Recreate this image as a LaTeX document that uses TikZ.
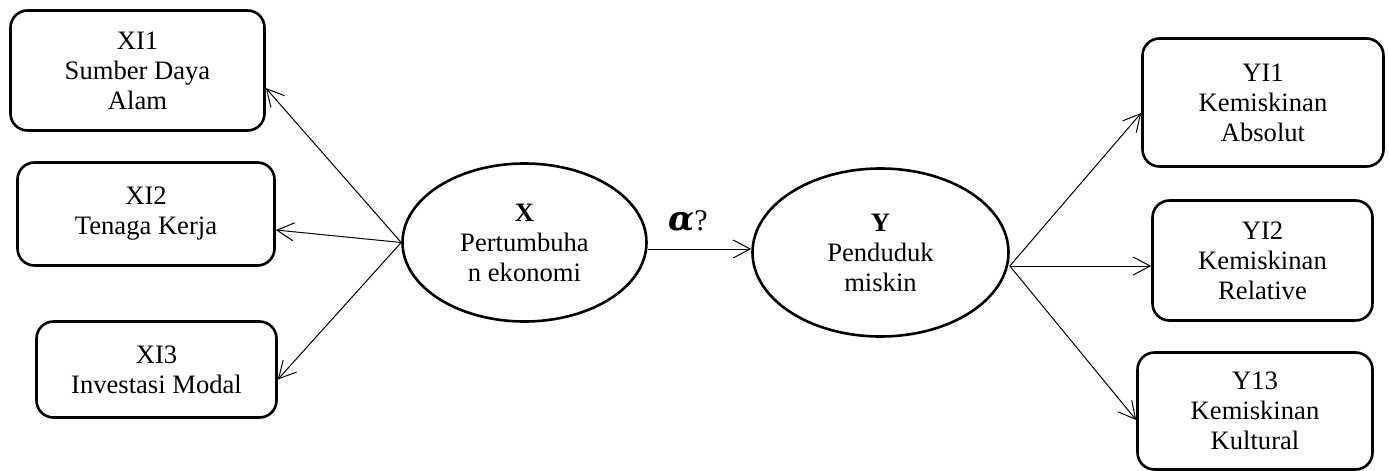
\documentclass[tikz,border=0pt]{standalone}
\usepackage{fontspec}
\setmainfont{Liberation Serif}
\newfontfamily\alfont{DejaVu Serif}
\usetikzlibrary{arrows.meta,shapes.geometric}
\begin{document}
\begin{tikzpicture}[x=1pt,y=-1pt,
  every node/.style={font=\fontsize{26.6}{30}\selectfont, align=center, inner sep=0pt},
  box/.style={draw, line width=2.6pt, rounded corners=17pt},
  oval/.style={draw, ellipse, line width=2.6pt, inner sep=0pt},
  link/.style={line width=1pt, -{Straight Barb[length=17pt,width=18pt,line width=1pt]}}]
\useasboundingbox (0,0) rectangle (1389,471);
\node[box, minimum width=254pt, minimum height=120pt] (xi1) at (137.5,70.5) {XI1\\Sumber Daya\\Alam};
\node[box, minimum width=257pt, minimum height=103pt] (xi2) at (146,214) {XI2\\Tenaga Kerja};
\node[box, minimum width=240pt, minimum height=96pt] (xi3) at (156.5,369.5) {XI3\\Investasi Modal};
\node[box, minimum width=241pt, minimum height=128pt] (yi1) at (1263,102.5) {YI1\\Kemiskinan\\Absolut};
\node[box, minimum width=220pt, minimum height=120pt] (yi2) at (1262.5,260.5) {YI2\\Kemiskinan\\Relative};
\node[box, minimum width=235pt, minimum height=117pt] (yi3) at (1255,411) {Y13\\Kemiskinan\\Kultural};
\node[oval, minimum width=244pt, minimum height=158pt] (x) at (524.5,242.5) {\textbf{X}\\Pertumbuha\\n ekonomi};
\node[oval, minimum width=256pt, minimum height=168pt] (y) at (880.5,252.5) {\textbf{Y}\\Penduduk\\miskin};
\node[font=\fontsize{30}{34}\selectfont, anchor=base] (lab) at (688,230) {{\alfont\bfseries\itshape\fontsize{34}{34}\selectfont α}?};
\draw[link] (x.west) -- ([yshift=-17.5pt]xi1.east);
\draw[link] (x.west) -- ([yshift=-16pt]xi2.east);
\draw[link] (x.west) -- ([yshift=-10pt]xi3.east);
\draw[link] ([yshift=-6.5pt]x.east) -- ([yshift=3.5pt]y.west);
\coordinate (yo) at ([yshift=-13.5pt]y.east);
\draw[link] (yo) -- ([yshift=-10.5pt]yi1.west);
\draw[link] (yo) -- ([yshift=-5.5pt]yi2.west);
\draw[link] (yo) -- ([yshift=-9pt]yi3.west);
\end{tikzpicture}
\end{document}
